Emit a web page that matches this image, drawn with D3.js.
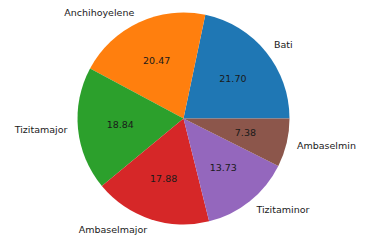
<!DOCTYPE html>
<html>
<head>
<meta charset="utf-8">
<script src="https://cdn.jsdelivr.net/npm/d3@7"></script>
<style>
  body { margin: 0; background: #fff; }
  text { font-family: "DejaVu Sans", sans-serif; fill: #1a1a1a; }
</style>
</head>
<body>
<div id="chart"></div>
<script>
// data
var categories = ["Bati", "Anchihoyelene", "Tizitamajor", "Ambaselmajor", "Tizitaminor", "Ambaselmin"];
var values = [21.70, 20.47, 18.84, 17.88, 13.73, 7.38];
var colors = ["#1f77b4", "#ff7f0e", "#2ca02c", "#d62728", "#9467bd", "#8c564b"];

var width = 368, height = 244,
    cx = 183.5, cy = 118.5, radius = 106;

var svg = d3.select("#chart")
    .append("svg")
    .attr("width", width)
    .attr("height", height)
    .append("g")
    .attr("transform", "translate(" + cx + "," + cy + ")");

var data = categories.map(function(c, i) { return { name: c, value: values[i] }; });

// start at 3 o'clock and go counterclockwise, like matplotlib
var pie = d3.pie()
    .sort(null)
    .value(function(d) { return d.value; })
    .startAngle(Math.PI / 2)
    .endAngle(Math.PI / 2 - 2 * Math.PI);

var arcs = pie(data);

var arc = d3.arc().innerRadius(0).outerRadius(radius);
var labelArc = d3.arc().innerRadius(radius * 1.1).outerRadius(radius * 1.1);
var pctArc = d3.arc().innerRadius(radius * 0.6).outerRadius(radius * 0.6);

var color = d3.scaleOrdinal().domain(categories).range(colors);

svg.selectAll("path.slice")
    .data(arcs)
    .enter().append("path")
    .attr("class", "slice")
    .attr("d", arc)
    .attr("fill", function(d) { return color(d.data.name); });

// outer labels
svg.selectAll("text.label")
    .data(arcs)
    .enter().append("text")
    .attr("class", "label")
    .attr("x", function(d) { return labelArc.centroid(d)[0]; })
    .attr("y", function(d) { return labelArc.centroid(d)[1]; })
    .attr("dy", "0.35em")
    .attr("font-size", "9.5px")
    .attr("text-anchor", function(d) { return labelArc.centroid(d)[0] > 0 ? "start" : "end"; })
    .text(function(d) { return d.data.name; });

// value labels
svg.selectAll("text.pct")
    .data(arcs)
    .enter().append("text")
    .attr("class", "pct")
    .attr("x", function(d) { return pctArc.centroid(d)[0]; })
    .attr("y", function(d) { return pctArc.centroid(d)[1]; })
    .attr("dy", "0.35em")
    .attr("font-size", "9.5px")
    .attr("text-anchor", "middle")
    .text(function(d) { return d.data.value.toFixed(2); });
</script>
</body>
</html>
